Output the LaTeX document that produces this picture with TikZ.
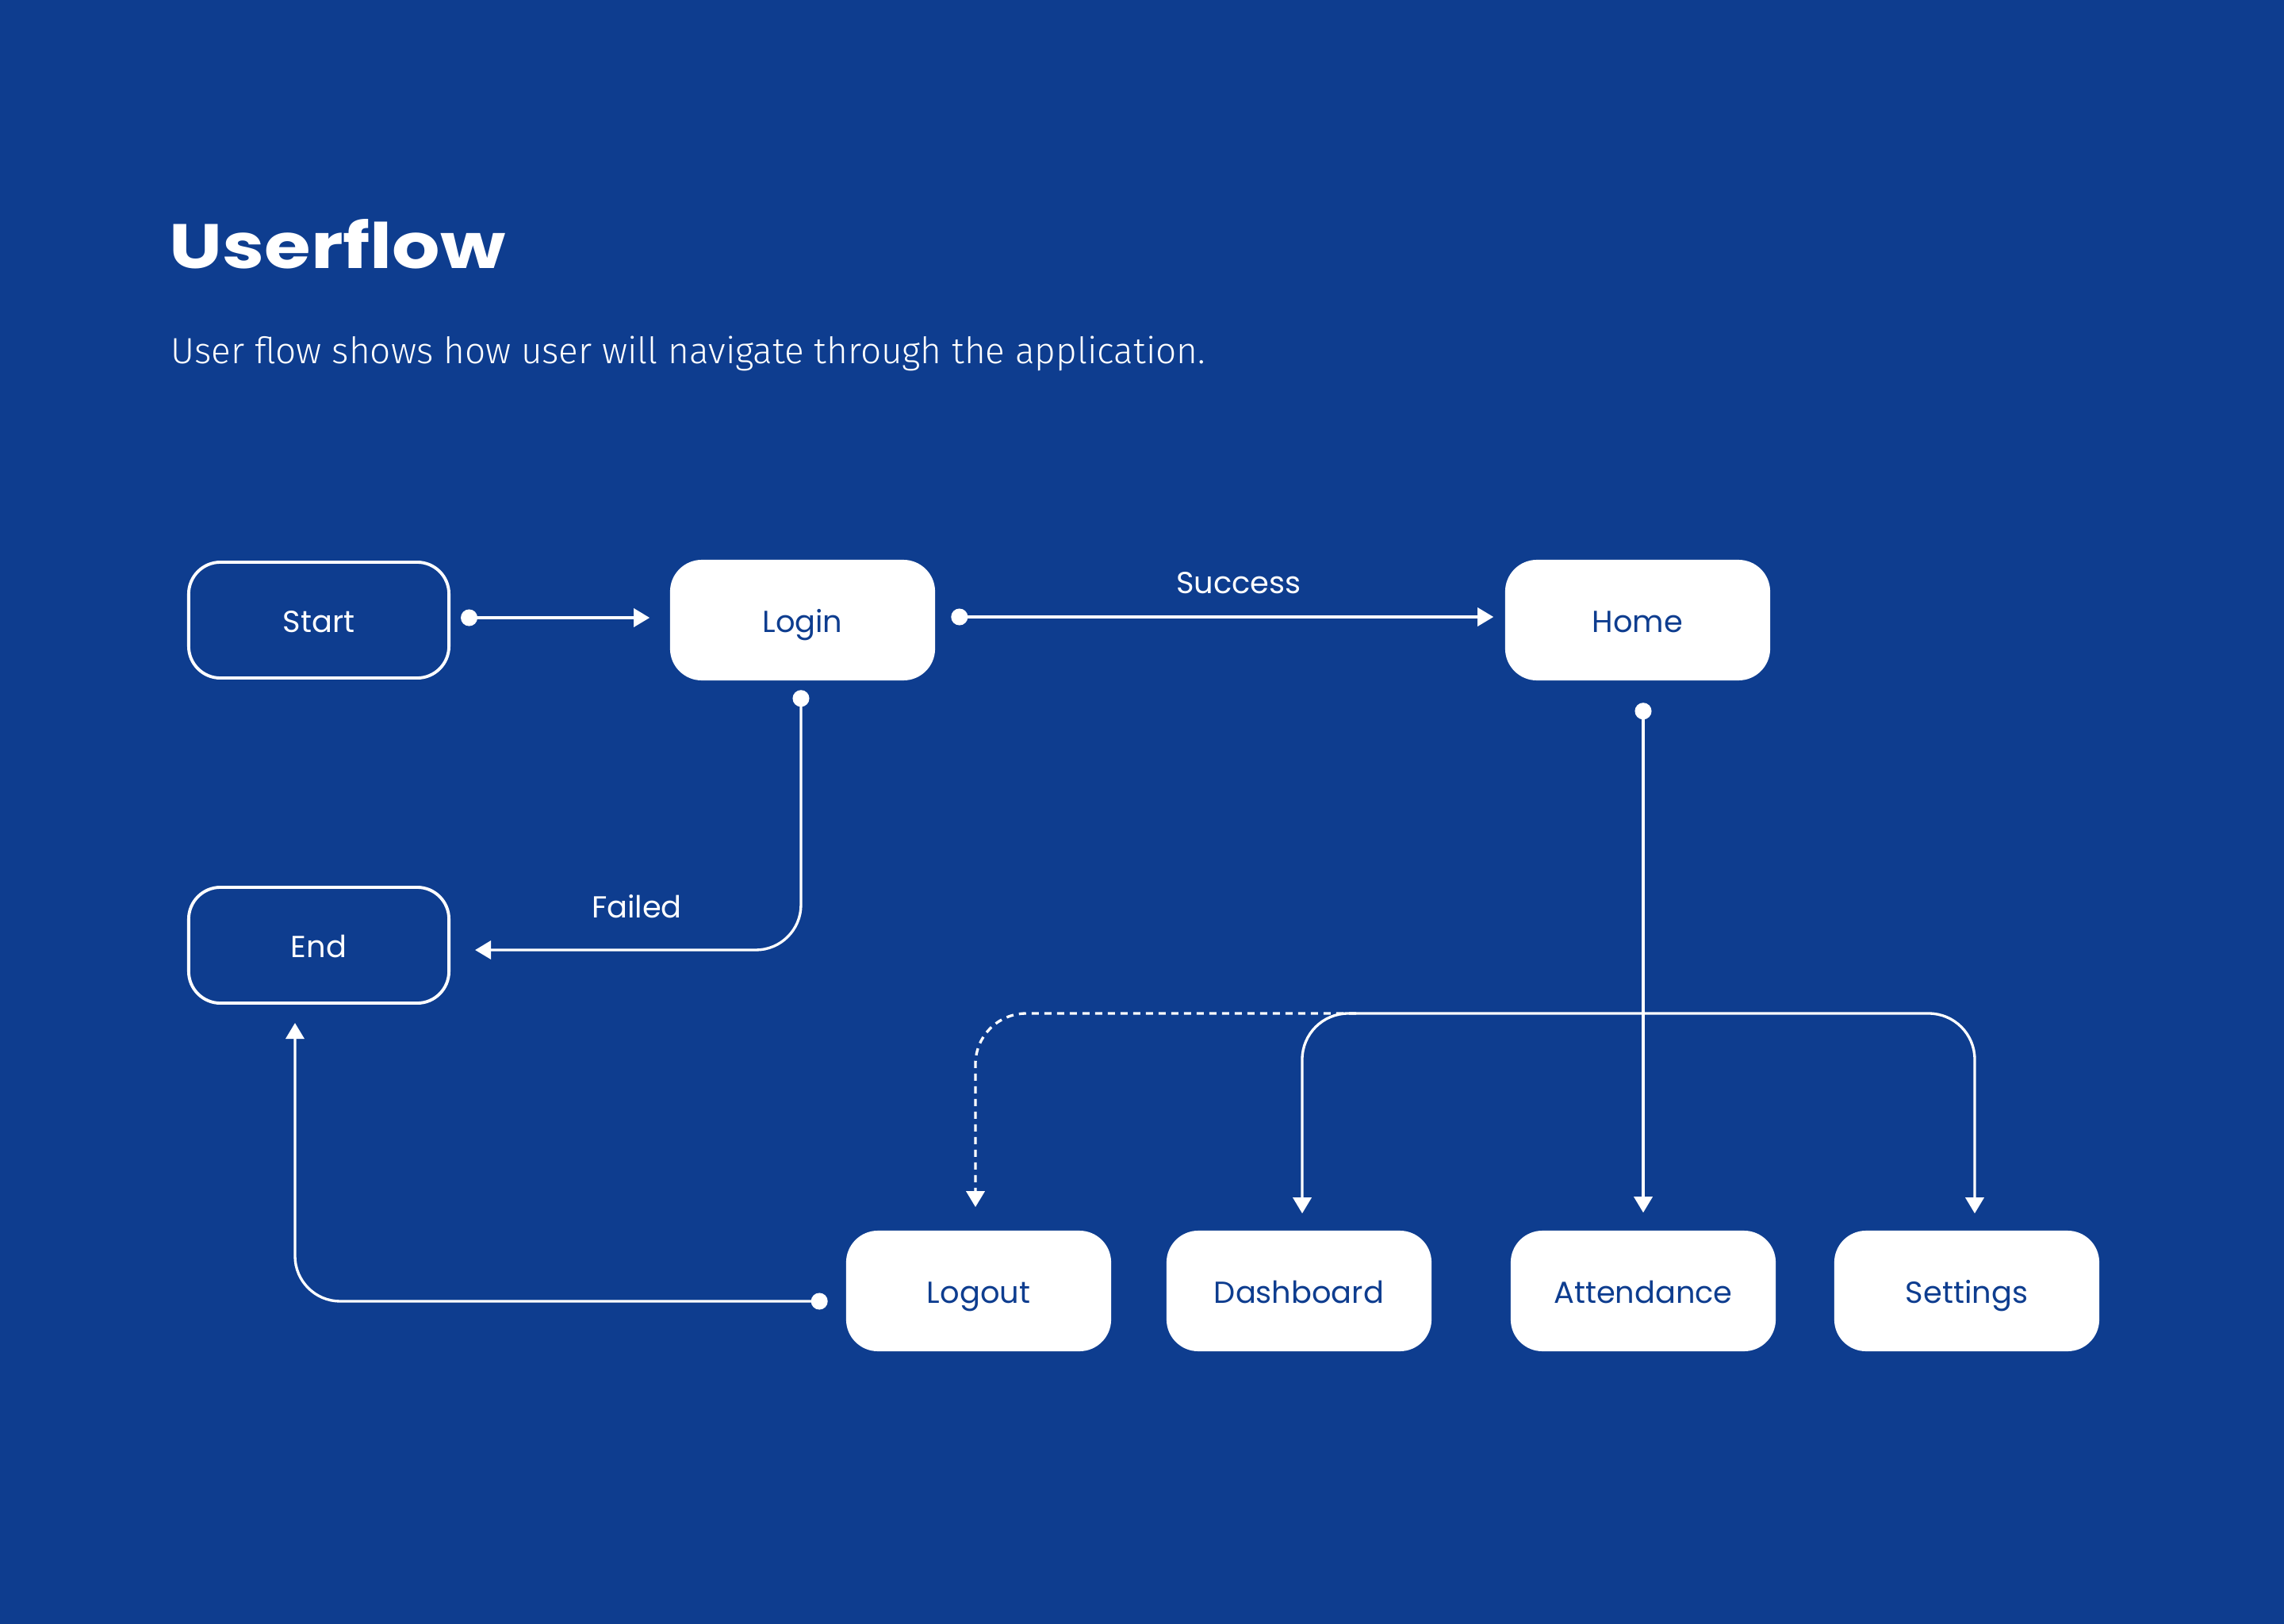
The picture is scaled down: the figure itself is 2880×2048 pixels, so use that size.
\documentclass[tikz,border=0pt]{standalone}
\usepackage{fontspec}
\setmainfont{Poppins}
\newfontfamily\lightfont{Fira Sans Light}
\usetikzlibrary{arrows.meta,calc}
\definecolor{bg}{HTML}{0E3D8F}
\tikzset{
  box/.style={rounded corners=0.4cm, minimum width=3.34cm, minimum height=1.52cm, inner sep=0pt,
    font=\fontsize{10.9}{13}\selectfont, text height=0.86em, text depth=0pt},
  filledbox/.style={box, fill=white, text=bg},
  outlinebox/.style={box, draw=white, line width=1.1pt, text=white, minimum width=3.28cm, minimum height=1.46cm},
  conn/.style={draw=white, line width=0.95pt, {Circle[length=0.21cm]}-{Triangle[length=0.2cm,width=0.23cm]}},
  plain/.style={draw=white, line width=0.95pt, -{Triangle[length=0.2cm,width=0.23cm]}},
  dashconn/.style={plain, dash pattern=on 0.09cm off 0.07cm},
  elabel/.style={text=white, font=\fontsize{10.9}{13}\selectfont, inner sep=0pt, text height=0.86em, text depth=0pt}
}
\begin{document}
\begin{tikzpicture}[x=0.01cm, y=-0.01cm]
\fill[bg] (0,0) rectangle (2880,2048);
\useasboundingbox (0,0) rectangle (2880,2048);

\node[anchor=base west, text=white, inner sep=0pt, font=\fontsize{22.5}{28}\bfseries] (title) at (213,338) {\scalebox{1.2}[1]{Userflow}};
\node[anchor=base west, text=white, inner sep=0pt, font=\lightfont\fontsize{13.05}{15}\selectfont] (subtitle) at (215,458) {User flow shows how user will navigate through the application.};

\node[outlinebox] (start) at (402,782) {Start};
\node[filledbox] (login) at (1012,782) {Login};
\node[filledbox] (home) at (2065,782) {Home};
\node[outlinebox] (end) at (402,1192) {End};
\node[filledbox] (logout) at (1234,1628) {Logout};
\node[filledbox] (dash) at (1638,1628) {Dashboard};
\node[filledbox] (att) at (2072,1628) {Attendance};
\node[filledbox] (set) at (2480,1628) {Settings};

% Start -> Login
\draw[conn] ([xshift=0.13cm,yshift=0.03cm]start.east) -- ([xshift=-0.25cm,yshift=0.03cm]login.west);
% Login -> Home
\draw[conn] ([xshift=0.195cm,yshift=0.04cm]login.east) -- ([xshift=-0.14cm,yshift=0.04cm]home.west);
\node[elabel] (success) at (1562,733) {Success};
% Login -> End
\draw[conn, rounded corners=0.57cm] ([xshift=-0.02cm,yshift=-0.115cm]login.south) |- ([xshift=0.31cm,yshift=-0.06cm]end.east);
\node[elabel] (failed) at (803,1142) {Failed};
% Home -> Attendance
\draw[conn] ($(att.north |- home.south)+(0,-0.275cm)$) -- ([yshift=0.22cm]att.north);
% bus
\coordinate (junction) at (2072,1278);
\coordinate (busleft) at (1710,1278);
\draw[plain, rounded corners=0.58cm] (junction) -| ([xshift=0.04cm,yshift=0.21cm]dash.north);
\draw[plain, rounded corners=0.58cm] (junction) -| ([xshift=0.1cm,yshift=0.21cm]set.north);
\draw[dashconn, rounded corners=0.64cm] (busleft) -| ([xshift=-0.04cm,yshift=0.29cm]logout.north);
% Logout -> End
\draw[conn, rounded corners=0.57cm] ([xshift=-0.225cm,yshift=-0.13cm]logout.west) -| ([xshift=-0.30cm,yshift=-0.23cm]end.south);
\end{tikzpicture}
\end{document}
